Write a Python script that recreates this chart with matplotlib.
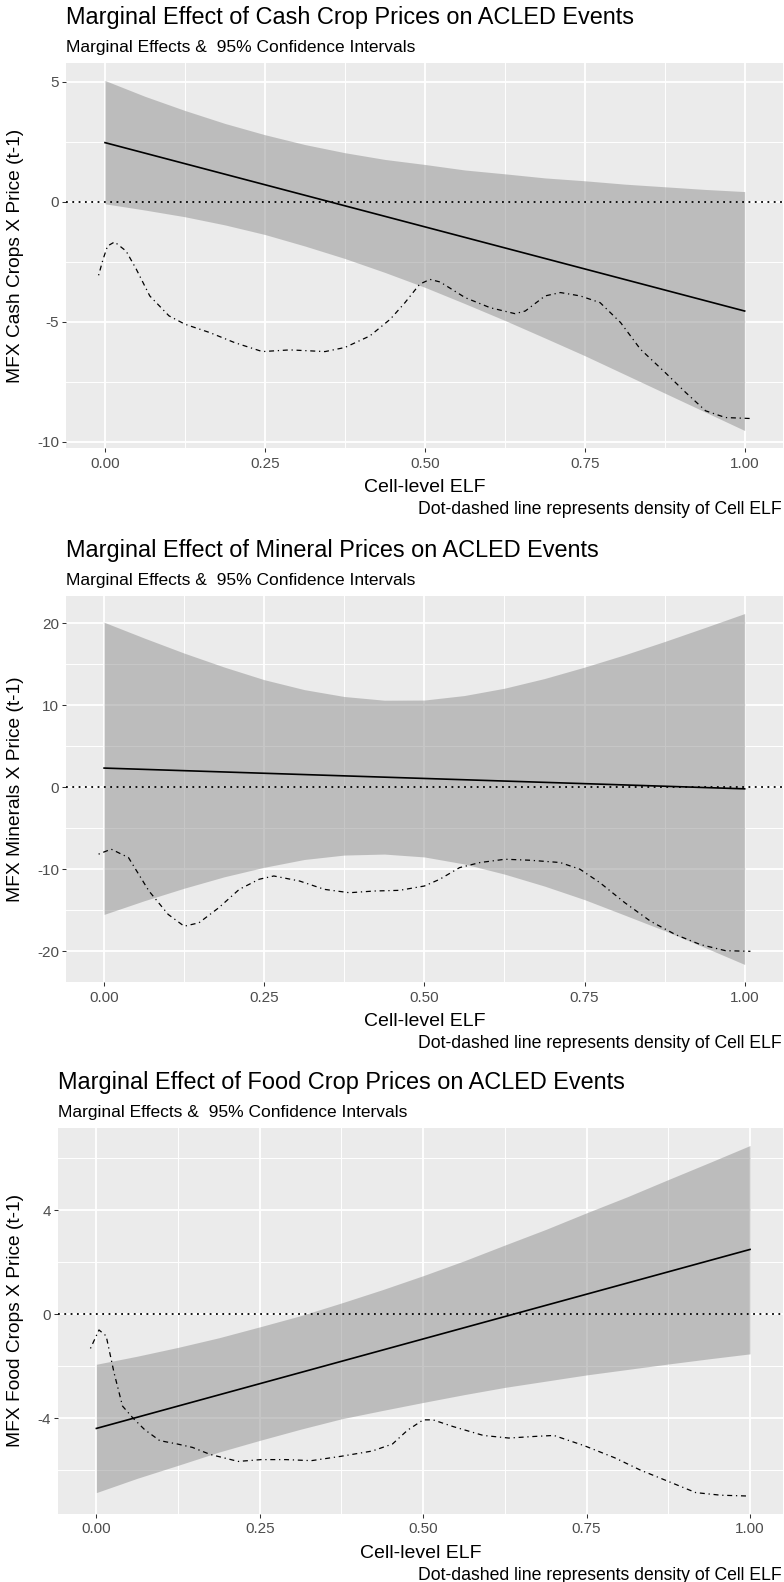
import matplotlib
matplotlib.use("Agg")
import matplotlib.pyplot as plt

plt.rcParams["font.family"] = ["Liberation Sans", "DejaVu Sans"]

# ---- shared x-axis (cell-level ELF) ----
x_ticks = [0.0, 0.25, 0.5, 0.75, 1.0]
x_minor = [0.125, 0.375, 0.625, 0.875]
x_tick_labels = ["0.00", "0.25", "0.50", "0.75", "1.00"]

# ELF values at which the confidence band edges are given
ci_x = [0.0, 0.0625, 0.125, 0.1875, 0.25, 0.3125, 0.375, 0.4375, 0.5,
        0.5625, 0.625, 0.6875, 0.75, 0.8125, 0.875, 0.9375, 1.0]

# ---- Cash crops ----
cash_upper = [5.05, 4.39, 3.80, 3.26, 2.79, 2.38, 2.04, 1.76, 1.55,
              1.32, 1.16, 0.99, 0.87, 0.73, 0.62, 0.51, 0.42]
cash_lower = [-0.09, -0.35, -0.63, -0.97, -1.37, -1.85, -2.37, -2.95, -3.57,
              -4.25, -4.95, -5.68, -6.42, -7.20, -7.98, -8.76, -9.54]
cash_mfx_x = [0.0, 1.0]
cash_mfx = [2.46, -4.56]
cash_dens_x = [-0.010, -0.003, 0.004, 0.015, 0.033, 0.049, 0.070, 0.100, 0.125,
               0.164, 0.203, 0.246, 0.289, 0.344, 0.375, 0.414, 0.446, 0.469,
               0.492, 0.508, 0.524, 0.563, 0.602, 0.641, 0.657, 0.688, 0.712,
               0.743, 0.774, 0.806, 0.837, 0.876, 0.908, 0.939, 0.970, 1.009]
cash_dens_y = [-3.07, -2.40, -1.85, -1.68, -2.06, -2.82, -3.93, -4.76, -5.11,
               -5.46, -5.88, -6.25, -6.18, -6.25, -6.08, -5.60, -4.90, -4.21,
               -3.44, -3.24, -3.35, -4.00, -4.42, -4.67, -4.56, -3.93, -3.79,
               -3.93, -4.21, -5.04, -6.15, -7.13, -7.96, -8.72, -9.00, -9.04]
cash_yticks = [-10, -5, 0, 5]
cash_yminor = [-7.5, -2.5, 2.5]

# ---- Minerals ----
min_upper = [20.10, 18.18, 16.34, 14.64, 13.10, 11.89, 11.05, 10.60, 10.62,
             11.17, 12.06, 13.24, 14.63, 16.13, 17.75, 19.44, 21.16]
min_lower = [-15.50, -13.84, -12.31, -10.92, -9.76, -8.81, -8.27, -8.15, -8.50,
             -9.36, -10.59, -12.05, -13.70, -15.58, -17.48, -19.52, -21.60]
min_mfx_x = [0.0, 1.0]
min_mfx = [2.33, -0.20]
min_dens_x = [-0.0086, 0.011, 0.038, 0.070, 0.100, 0.125, 0.148, 0.179, 0.211,
              0.242, 0.265, 0.305, 0.344, 0.383, 0.422, 0.461, 0.500, 0.524,
              0.555, 0.587, 0.626, 0.665, 0.712, 0.743, 0.774, 0.813, 0.853,
              0.892, 0.931, 0.970, 1.009]
min_dens_y = [-8.16, -7.55, -8.57, -12.65, -15.5, -16.94, -16.53, -14.69, -12.45,
              -11.22, -10.82, -11.43, -12.45, -12.86, -12.65, -12.57, -12.04, -11.22,
              -9.80, -9.18, -8.78, -8.90, -9.18, -10.0, -11.63, -14.08, -16.33,
              -17.96, -19.18, -19.92, -20.0]
min_yticks = [-20, -10, 0, 10, 20]
min_yminor = [-15, -5, 5, 15]

# ---- Food crops ----
food_upper = [-1.93, -1.62, -1.28, -0.91, -0.49, -0.06, 0.43, 0.94, 1.48,
              2.05, 2.66, 3.26, 3.90, 4.52, 5.18, 5.83, 6.49]
food_lower = [-6.87, -6.32, -5.82, -5.31, -4.86, -4.43, -4.03, -3.71, -3.40,
              -3.10, -2.82, -2.58, -2.34, -2.13, -1.92, -1.72, -1.53]
food_mfx_x = [0.0, 1.0]
food_mfx = [-4.40, 2.49]
food_dens_x = [-0.009, 0.004, 0.015, 0.027, 0.040, 0.056, 0.074, 0.097, 0.124,
               0.147, 0.174, 0.217, 0.252, 0.290, 0.329, 0.375, 0.422, 0.453,
               0.476, 0.500, 0.515, 0.546, 0.592, 0.631, 0.669, 0.700, 0.747,
               0.793, 0.832, 0.878, 0.917, 0.955, 0.994]
food_dens_y = [-1.32, -0.61, -0.84, -2.25, -3.54, -4.00, -4.45, -4.87, -5.0,
               -5.13, -5.4, -5.67, -5.6, -5.6, -5.64, -5.47, -5.27, -5.0,
               -4.47, -4.07, -4.07, -4.33, -4.67, -4.77, -4.71, -4.67, -5.07,
               -5.53, -6.0, -6.47, -6.87, -6.97, -7.0]
food_yticks = [-4, 0, 4]
food_yminor = [-6, -2, 2, 6]

titles = ["Marginal Effect of Cash Crop Prices on ACLED Events",
          "Marginal Effect of Mineral Prices on ACLED Events",
          "Marginal Effect of Food Crop Prices on ACLED Events"]
subtitle = "Marginal Effects &  95% Confidence Intervals"
ylabels = ["MFX Cash Crops X Price (t-1)",
           "MFX Minerals X Price (t-1)",
           "MFX Food Crops X Price (t-1)"]
xlabel = "Cell-level ELF"
caption = "Dot-dashed line represents density of Cell ELF"

W, H = 784, 1582
fig = plt.figure(figsize=(W / 100, H / 100), dpi=100)
fig.patch.set_facecolor("white")

# panel boxes in pixels: left, top, right, bottom
boxes = [(66, 63, 783, 448), (66, 596, 783, 982), (57.5, 1128, 783, 1513.5)]

panels = [
    (cash_upper, cash_lower, cash_mfx_x, cash_mfx, cash_dens_x, cash_dens_y, cash_yticks, cash_yminor),
    (min_upper, min_lower, min_mfx_x, min_mfx, min_dens_x, min_dens_y, min_yticks, min_yminor),
    (food_upper, food_lower, food_mfx_x, food_mfx, food_dens_x, food_dens_y, food_yticks, food_yminor),
]


def fy(py):
    return 1 - py / H


def fx(px):
    return px / W


for i, (box, data) in enumerate(zip(boxes, panels)):
    l, t, r, b = box
    up, lo, mx, my, dx, dy, yt, ym = data
    ax = fig.add_axes([fx(l), fy(b), (r - l) / W, (b - t) / H])
    ax.set_facecolor("#EBEBEB")
    for s in ax.spines.values():
        s.set_visible(False)

    # ranges expanded by 5% on each side
    xs = list(ci_x) + list(dx)
    ys = list(up) + list(lo) + list(my) + list(dy)
    xr = max(xs) - min(xs)
    yr = max(ys) - min(ys)
    ax.set_xlim(min(xs) - 0.05 * xr, max(xs) + 0.05 * xr)
    ax.set_ylim(min(ys) - 0.05 * yr, max(ys) + 0.05 * yr)

    ax.set_xticks(x_ticks)
    ax.set_xticklabels(x_tick_labels)
    ax.set_xticks(x_minor, minor=True)
    ax.set_yticks(yt)
    ax.set_yticklabels([str(v) for v in yt])
    ax.set_yticks(ym, minor=True)

    ax.grid(which="major", color="white", linewidth=1.3, zorder=0)
    ax.grid(which="minor", color="white", linewidth=0.7, zorder=0)
    ax.set_axisbelow(True)

    ax.tick_params(which="major", length=2.9, width=0.75, color="#333333",
                   labelsize=11, labelcolor="#4D4D4D", pad=2)
    ax.tick_params(axis="x", which="major", pad=3.5)
    ax.tick_params(which="minor", length=0)

    ax.fill_between(ci_x, lo, up, color="#8F8F8F", alpha=0.5, linewidth=0, zorder=2)
    ax.axhline(0, color="black", linewidth=1.3, linestyle=(0, (1, 2.5)), zorder=3)
    ax.plot(mx, my, color="black", linewidth=1.2, zorder=4)
    ax.plot(dx, dy, color="black", linewidth=0.9, linestyle=(0, (1, 3, 4, 3)), zorder=4)

    # titles and labels (baselines in pixels)
    fig.text(fx(l), fy(t - 47.3 + 8.4), titles[i], fontsize=16.9, ha="left", va="baseline")
    fig.text(fx(l), fy(t - 17.6 + 6.2), subtitle, fontsize=12.5, ha="left", va="baseline")
    fig.text(fx((l + r) / 2), fy(b + 37.5 + 7.0), xlabel, fontsize=14, ha="center", va="baseline")
    fig.text(fx(782), fy(b + 60 + 6.3), caption, fontsize=12.7, ha="right", va="baseline")
    fig.text(fx(15.5), fy((t + b) / 2), ylabels[i], fontsize=13.8, rotation=90,
             ha="center", va="center")

fig.savefig("out.png", dpi=100)
